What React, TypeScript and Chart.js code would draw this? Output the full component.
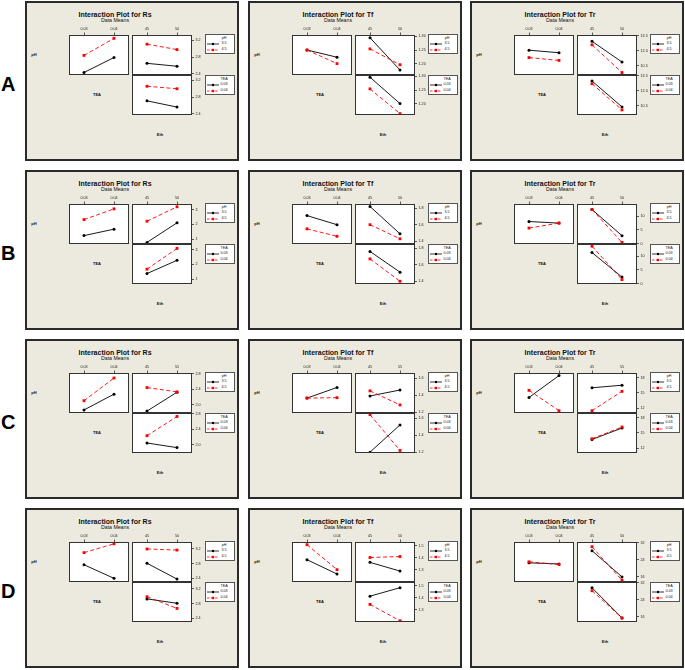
import React, { useEffect, useRef } from 'react';
import { Chart, registerables } from 'chart.js';
Chart.register(...registerables);

// ---------- factor levels ----------
const TEA_LEVELS = [0.03, 0.04];
const TEA_LABELS = ['0.03', '0.04'];
const ETH_LEVELS_45_50 = [45, 50];
const ETH_LEVELS_45_55 = [45, 55];
const PH_LABELS = ['3.5', '4.5'];
const ROW_LETTERS = ['A', 'B', 'C', 'D'];
const RESPONSES = ['Rs', 'Tf', 'Tr'];

// ---------- Row A ----------
const A_RS_PH_TEA = [[2.43, 2.79], [2.84, 3.25]];
const A_RS_PH_ETH = [[2.65, 2.58], [3.11, 2.98]];
const A_RS_TEA_ETH = [[2.71, 2.56], [3.06, 3.0]];
const A_RS_RANGE = [2.37, 3.33];
const A_RS_TICKS = [2.4, 2.8, 3.2];

const A_TF_PH_TEA = [[1.25, 1.224], [1.25, 1.201]];
const A_TF_PH_ETH = [[1.294, 1.178], [1.254, 1.197]];
const A_TF_TEA_ETH = [[1.296, 1.201], [1.254, 1.165]];
const A_TF_RANGE = [1.16, 1.304];
const A_TF_TICKS = [1.2, 1.25, 1.3];

const A_TR_PH_TEA = [[12.05, 11.8], [11.32, 11.04]];
const A_TR_PH_ETH = [[12.93, 10.88], [12.58, 9.84]];
const A_TR_TEA_ETH = [[12.96, 10.4], [12.69, 10.1]];
const A_TR_RANGE = [9.6, 13.55];
const A_TR_TICKS = [10.5, 12.0, 13.5];

// ---------- Row B ----------
const B_RS_PH_TEA = [[1.23, 1.67], [2.32, 3.05]];
const B_RS_PH_ETH = [[0.77, 2.1], [2.21, 3.19]];
const B_RS_TEA_ETH = [[1.37, 2.27], [1.67, 3.08]];
const B_RS_RANGE = [0.66, 3.38];
const B_RS_TICKS = [1, 2, 3];

const B_TF_PH_TEA = [[1.71, 1.6], [1.55, 1.46]];
const B_TF_PH_ETH = [[1.82, 1.49], [1.6, 1.43]];
const B_TF_TEA_ETH = [[1.76, 1.51], [1.67, 1.4]];
const B_TF_RANGE = [1.367, 1.85];
const B_TF_TICKS = [1.4, 1.6, 1.8];

const B_TR_PH_TEA = [[8.05, 7.47], [5.67, 7.47]];
const B_TR_PH_ETH = [[12.4, 2.9], [12.4, 0.47]];
const B_TR_TEA_ETH = [[11.3, 2.4], [13.6, 1.5]];
const B_TR_RANGE = [-0.1, 14.4];
const B_TR_TICKS = [0, 5, 10];

// ---------- Row C ----------
const C_RS_PH_TEA = [[1.86, 2.27], [2.1, 2.69]];
const C_RS_PH_ETH = [[1.83, 2.32], [2.44, 2.33]];
const C_RS_TEA_ETH = [[2.04, 1.92], [2.23, 2.73]];
const C_RS_RANGE = [1.78, 2.82];
const C_RS_TICKS = [2.0, 2.4, 2.8];

const C_TF_PH_TEA = [[1.365, 1.49], [1.365, 1.37]];
const C_TF_PH_ETH = [[1.39, 1.46], [1.45, 1.285]];
const C_TF_TEA_ETH = [[1.2, 1.52], [1.64, 1.22]];
const C_TF_RANGE = [1.19, 1.66];
const C_TF_TICKS = [1.2, 1.4, 1.6];

const C_TR_PH_TEA = [[14.1, 18.4], [15.5, 11.5]];
const C_TR_PH_ETH = [[16.0, 16.5], [11.5, 15.3]];
const C_TR_TEA_ETH = [[13.7, 15.95], [13.85, 16.15]];
const C_TR_RANGE = [11.05, 18.9];
const C_TR_TICKS = [12, 15, 18];

// ---------- Row D ----------
const D_RS_PH_TEA = [[2.77, 2.4], [3.1, 3.34]];
const D_RS_PH_ETH = [[2.81, 2.38], [3.2, 3.17]];
const D_RS_TEA_ETH = [[2.93, 2.81], [2.99, 2.67]];
const D_RS_RANGE = [2.3, 3.39];
const D_RS_TICKS = [2.4, 2.8, 3.2];

const D_TF_PH_TEA = [[1.384, 1.266], [1.508, 1.302]];
const D_TF_PH_ETH = [[1.362, 1.29], [1.402, 1.41]];
const D_TF_TEA_ETH = [[1.413, 1.483], [1.345, 1.21]];
const D_TF_RANGE = [1.2, 1.53];
const D_TF_TICKS = [1.3, 1.4, 1.5];

const D_TR_PH_TEA = [[22.6, 22.1], [23.1, 21.8]];
const D_TR_PH_ETH = [[28.3, 16.0], [30.2, 14.4]];
const D_TR_TEA_ETH = [[29.7, 15.5], [28.3, 15.5]];
const D_TR_RANGE = [13.6, 32.4];
const D_TR_TICKS = [16, 24, 32];

type PanelDef = {
  resp: string; eth: number[]; ul: number[][]; ur: number[][]; lr: number[][];
  range: number[]; ticks: number[]; dec: number;
};

const PANELS: PanelDef[][] = [
  [
    { resp: RESPONSES[0], eth: ETH_LEVELS_45_50, ul: A_RS_PH_TEA, ur: A_RS_PH_ETH, lr: A_RS_TEA_ETH, range: A_RS_RANGE, ticks: A_RS_TICKS, dec: 1 },
    { resp: RESPONSES[1], eth: ETH_LEVELS_45_50, ul: A_TF_PH_TEA, ur: A_TF_PH_ETH, lr: A_TF_TEA_ETH, range: A_TF_RANGE, ticks: A_TF_TICKS, dec: 2 },
    { resp: RESPONSES[2], eth: ETH_LEVELS_45_50, ul: A_TR_PH_TEA, ur: A_TR_PH_ETH, lr: A_TR_TEA_ETH, range: A_TR_RANGE, ticks: A_TR_TICKS, dec: 1 },
  ],
  [
    { resp: RESPONSES[0], eth: ETH_LEVELS_45_50, ul: B_RS_PH_TEA, ur: B_RS_PH_ETH, lr: B_RS_TEA_ETH, range: B_RS_RANGE, ticks: B_RS_TICKS, dec: 0 },
    { resp: RESPONSES[1], eth: ETH_LEVELS_45_50, ul: B_TF_PH_TEA, ur: B_TF_PH_ETH, lr: B_TF_TEA_ETH, range: B_TF_RANGE, ticks: B_TF_TICKS, dec: 1 },
    { resp: RESPONSES[2], eth: ETH_LEVELS_45_50, ul: B_TR_PH_TEA, ur: B_TR_PH_ETH, lr: B_TR_TEA_ETH, range: B_TR_RANGE, ticks: B_TR_TICKS, dec: 0 },
  ],
  [
    { resp: RESPONSES[0], eth: ETH_LEVELS_45_55, ul: C_RS_PH_TEA, ur: C_RS_PH_ETH, lr: C_RS_TEA_ETH, range: C_RS_RANGE, ticks: C_RS_TICKS, dec: 1 },
    { resp: RESPONSES[1], eth: ETH_LEVELS_45_55, ul: C_TF_PH_TEA, ur: C_TF_PH_ETH, lr: C_TF_TEA_ETH, range: C_TF_RANGE, ticks: C_TF_TICKS, dec: 1 },
    { resp: RESPONSES[2], eth: ETH_LEVELS_45_55, ul: C_TR_PH_TEA, ur: C_TR_PH_ETH, lr: C_TR_TEA_ETH, range: C_TR_RANGE, ticks: C_TR_TICKS, dec: 0 },
  ],
  [
    { resp: RESPONSES[0], eth: ETH_LEVELS_45_50, ul: D_RS_PH_TEA, ur: D_RS_PH_ETH, lr: D_RS_TEA_ETH, range: D_RS_RANGE, ticks: D_RS_TICKS, dec: 1 },
    { resp: RESPONSES[1], eth: ETH_LEVELS_45_50, ul: D_TF_PH_TEA, ur: D_TF_PH_ETH, lr: D_TF_TEA_ETH, range: D_TF_RANGE, ticks: D_TF_TICKS, dec: 1 },
    { resp: RESPONSES[2], eth: ETH_LEVELS_45_50, ul: D_TR_PH_TEA, ur: D_TR_PH_ETH, lr: D_TR_TEA_ETH, range: D_TR_RANGE, ticks: D_TR_TICKS, dec: 0 },
  ],
];

// ---------- layout ----------
const FONT = '"Liberation Sans", Arial, sans-serif';
const PANEL_W = 214;
const PANEL_H = 160;
const COL_X = [25, 248, 470];
const ROW_Y = [1, 170, 339, 508];
const CELL_X = [41, 104];
const CELL_Y = [34, 74];
const CW = 63;
const CH = 40;
const PT = 12, PR = 26, PB = 5, PL = 1;
const TICK_FONT = { family: 'Liberation Sans', size: 3.7 };

const cellFrame = {
  id: 'cellFrame',
  beforeDraw(chart: any) {
    const { ctx, chartArea: a } = chart;
    ctx.save();
    ctx.fillStyle = '#ffffff';
    ctx.fillRect(a.left, a.top, a.right - a.left, a.bottom - a.top);
    ctx.restore();
  },
  afterDraw(chart: any) {
    const { ctx, chartArea: a } = chart;
    ctx.save();
    ctx.strokeStyle = '#333';
    ctx.lineWidth = 1;
    ctx.strokeRect(a.left + 0.5, a.top + 0.5, a.right - a.left - 1, a.bottom - a.top - 1);
    ctx.restore();
  },
};

type CellProps = {
  x: number; y: number; xLevels: number[]; xLabels: string[]; showX: boolean; showY: boolean;
  range: number[]; ticks: number[]; dec: number; series: number[][];
};

function Cell({ x, y, xLevels, xLabels, showX, showY, range, ticks, dec, series }: CellProps) {
  const ref = useRef<HTMLCanvasElement>(null);
  useEffect(() => {
    const step = xLevels[1] - xLevels[0];
    const chart = new Chart(ref.current!, {
      type: 'line',
      data: {
        datasets: series.map((vals, i) => ({
          data: xLevels.map((xv, j) => ({ x: xv, y: vals[j] })),
          borderColor: i === 0 ? '#000' : '#f00',
          backgroundColor: i === 0 ? '#000' : '#f00',
          pointBackgroundColor: i === 0 ? '#000' : '#f00',
          pointBorderColor: i === 0 ? '#000' : '#f00',
          pointBorderWidth: 0,
          borderWidth: 0.9,
          borderDash: i === 0 ? [] : [4, 2.5],
          pointStyle: i === 0 ? 'circle' : 'rect',
          pointRadius: i === 0 ? 1.5 : 2,
          tension: 0,
          fill: false,
          order: i === 0 ? 1 : 0,
        })),
      },
      options: {
        animation: false,
        responsive: false,
        events: [],
        layout: { padding: { left: PL, right: showY ? 0 : PR, top: showX ? 0 : PT, bottom: PB } },
        plugins: { legend: { display: false }, tooltip: { enabled: false } },
        scales: {
          x: {
            type: 'linear',
            position: 'top',
            display: showX,
            min: xLevels[0] - step / 2,
            max: xLevels[1] + step / 2,
            afterBuildTicks: (s: any) => { s.ticks = xLevels.map((v) => ({ value: v })); },
            afterFit: (s: any) => { if (showX) { s.height = PT; s.paddingLeft = 0; s.paddingRight = 0; } },
            ticks: {
              autoSkip: false, maxRotation: 0, minRotation: 0, padding: 1, color: '#222', font: TICK_FONT,
              callback: (_v: any, i: number) => xLabels[i],
            },
            grid: { drawOnChartArea: false, drawTicks: true, tickLength: 2.5, color: '#333', lineWidth: 0.8 },
            border: { display: false },
          },
          y: {
            type: 'linear',
            position: 'right',
            display: showY,
            min: range[0],
            max: range[1],
            afterBuildTicks: (s: any) => { s.ticks = ticks.map((v) => ({ value: v })); },
            afterFit: (s: any) => { if (showY) { s.width = PR; s.paddingTop = 0; s.paddingBottom = 0; } },
            ticks: {
              autoSkip: false, padding: 1.5, color: '#222', font: TICK_FONT,
              callback: (v: any) => Number(v).toFixed(dec),
            },
            grid: { drawOnChartArea: false, drawTicks: true, tickLength: 2, color: '#333', lineWidth: 0.8 },
            border: { display: false },
          },
        },
      },
      plugins: [cellFrame],
    } as any);
    return () => chart.destroy();
  }, []);
  return (
    <canvas
      ref={ref}
      width={PL + CW + PR}
      height={PT + CH + PB}
      style={{ position: 'absolute', left: x - PL, top: y - PT, width: PL + CW + PR, height: PT + CH + PB }}
    />
  );
}

function Txt({ x, y, size, bold, children }: any) {
  return (
    <div
      style={{
        position: 'absolute', left: x, top: y, transform: 'translate(-50%, -50%)',
        fontSize: size, fontWeight: bold ? 700 : 400, lineHeight: 1, whiteSpace: 'nowrap',
        fontFamily: FONT, color: '#111',
      }}
    >
      {children}
    </div>
  );
}

function LegendBox({ top, title, labels }: { top: number; title: string; labels: string[] }) {
  return (
    <div
      style={{
        position: 'absolute', left: 180, top, width: 30, height: 20, background: '#fff',
        border: '1px solid #555', boxSizing: 'border-box',
      }}
    >
      <Txt x={18} y={4} size={3.7}>{title}</Txt>
      {labels.map((lab, i) => (
        <React.Fragment key={i}>
          <svg style={{ position: 'absolute', left: 1, top: 9 + i * 6 - 2 }} width={12} height={4}>
            <line x1={0} y1={2} x2={12} y2={2} stroke={i ? '#f00' : '#000'} strokeWidth={0.8}
              strokeDasharray={i ? '2.5 1.5' : undefined} />
            {i ? <rect x={4.8} y={0.8} width={2.4} height={2.4} fill="#f00" /> : <circle cx={6} cy={2} r={1.2} fill="#000" />}
          </svg>
          <Txt x={18} y={9 + i * 6} size={3.7}>{lab}</Txt>
        </React.Fragment>
      ))}
    </div>
  );
}

function Panel({ def, left, top }: { def: PanelDef; left: number; top: number }) {
  const ethLabels = def.eth.map((v) => String(v));
  return (
    <div
      style={{
        position: 'absolute', left, top, width: PANEL_W, height: PANEL_H, boxSizing: 'border-box',
        border: '2px solid #2a2a2a', background: '#ECE9DF',
      }}
    >
      <div style={{ position: 'absolute', left: -2, top: -2, width: PANEL_W, height: PANEL_H }}>
        <Txt x={90} y={12.5} size={7} bold>{`Interaction Plot for ${def.resp}`}</Txt>
        <Txt x={90} y={19.5} size={5.2}>Data Means</Txt>
        <Txt x={9} y={54} size={4} bold>pH</Txt>
        <Txt x={72} y={94} size={4} bold>TEA</Txt>
        <Txt x={135} y={134} size={4} bold>Eth</Txt>
        <Cell x={CELL_X[0]} y={CELL_Y[0]} xLevels={TEA_LEVELS} xLabels={TEA_LABELS} showX showY={false}
          range={def.range} ticks={def.ticks} dec={def.dec} series={def.ul} />
        <Cell x={CELL_X[1]} y={CELL_Y[0]} xLevels={def.eth} xLabels={ethLabels} showX showY
          range={def.range} ticks={def.ticks} dec={def.dec} series={def.ur} />
        <Cell x={CELL_X[1]} y={CELL_Y[1]} xLevels={def.eth} xLabels={ethLabels} showX={false} showY
          range={def.range} ticks={def.ticks} dec={def.dec} series={def.lr} />
        <LegendBox top={33} title="pH" labels={PH_LABELS} />
        <LegendBox top={74} title="TEA" labels={TEA_LABELS} />
      </div>
    </div>
  );
}

export default function App() {
  return (
    <div style={{ position: 'absolute', left: 0, top: 0, width: 685, height: 670, background: '#fff', overflow: 'hidden' }}>
      {ROW_LETTERS.map((letter, r) => (
        <div key={letter}
          style={{
            position: 'absolute', left: 1, top: ROW_Y[r] + 83 - 10, fontFamily: FONT, fontWeight: 700,
            fontSize: 20, lineHeight: '20px', color: '#000',
          }}
        >
          {letter}
        </div>
      ))}
      {PANELS.map((row, r) =>
        row.map((def, c) => <Panel key={`${r}-${c}`} def={def} left={COL_X[c]} top={ROW_Y[r]} />)
      )}
    </div>
  );
}
